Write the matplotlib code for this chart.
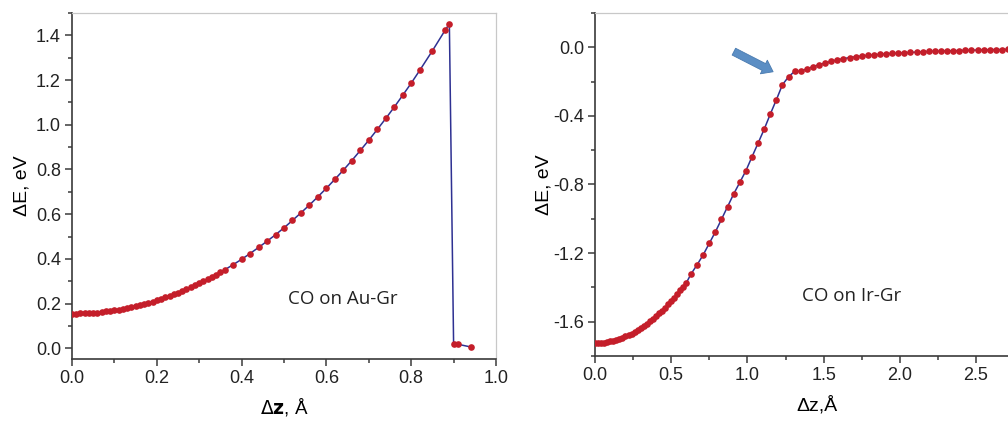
import matplotlib
matplotlib.use("Agg")
import matplotlib.pyplot as plt
from matplotlib.ticker import MultipleLocator, FormatStrFormatter, FixedLocator

plt.rcParams['axes.unicode_minus'] = False
plt.rcParams['font.family'] = ['Liberation Sans', 'DejaVu Sans']

# ---- data: CO on Au-Gr ----
au_dz = [0.00, 0.01, 0.02, 0.03, 0.04, 0.05, 0.06, 0.07, 0.08, 0.09,
         0.10, 0.11, 0.12, 0.13, 0.14, 0.15, 0.16, 0.17, 0.18, 0.19,
         0.20, 0.21, 0.22, 0.23, 0.24, 0.25, 0.26, 0.27, 0.28, 0.29,
         0.30, 0.31, 0.32, 0.33, 0.34, 0.35, 0.36, 0.38, 0.40, 0.42,
         0.44, 0.46, 0.48, 0.50, 0.52, 0.54, 0.56, 0.58, 0.60, 0.62,
         0.64, 0.66, 0.68, 0.70, 0.72, 0.74, 0.76, 0.78, 0.80, 0.82,
         0.85, 0.88, 0.89, 0.90, 0.91, 0.94]
au_dE = [0.155, 0.155, 0.156, 0.156, 0.157, 0.159, 0.160, 0.162, 0.165, 0.167,
         0.170, 0.173, 0.177, 0.180, 0.184, 0.189, 0.193, 0.198, 0.204, 0.209,
         0.215, 0.221, 0.228, 0.234, 0.242, 0.249, 0.257, 0.265, 0.273, 0.282,
         0.291, 0.300, 0.310, 0.320, 0.330, 0.340, 0.351, 0.374, 0.398, 0.424,
         0.451, 0.479, 0.508, 0.539, 0.572, 0.606, 0.641, 0.678, 0.716, 0.756,
         0.797, 0.840, 0.885, 0.931, 0.979, 1.028, 1.079, 1.132, 1.186, 1.243,
         1.331, 1.423, 1.451, 0.018, 0.018, 0.006]

# ---- data: CO on Ir-Gr ----
ir_dz = [0.00, 0.02, 0.04, 0.06, 0.08, 0.10, 0.12, 0.14, 0.16, 0.18,
         0.20, 0.22, 0.24, 0.26, 0.28, 0.30, 0.32, 0.34, 0.36, 0.38,
         0.40, 0.42, 0.44, 0.46, 0.48, 0.50, 0.52, 0.54, 0.56, 0.58,
         0.60, 0.63, 0.67, 0.71, 0.75, 0.79, 0.83, 0.87, 0.91, 0.95,
         0.99, 1.03, 1.07, 1.11, 1.15, 1.19, 1.23, 1.27, 1.31, 1.35,
         1.39, 1.43, 1.47, 1.51, 1.55, 1.59, 1.63, 1.67, 1.71, 1.75,
         1.79, 1.83, 1.87, 1.91, 1.95, 1.99, 2.03, 2.07, 2.11, 2.15,
         2.19, 2.23, 2.27, 2.31, 2.35, 2.39, 2.43, 2.47, 2.51, 2.55,
         2.59, 2.63, 2.67, 2.71, 2.75, 2.79]
ir_dE = [-1.725, -1.725, -1.723, -1.722, -1.719, -1.715, -1.711, -1.706, -1.700, -1.693,
         -1.686, -1.678, -1.669, -1.659, -1.648, -1.637, -1.625, -1.612, -1.598, -1.584,
         -1.568, -1.552, -1.535, -1.518, -1.499, -1.480, -1.460, -1.439, -1.418, -1.395,
         -1.372, -1.322, -1.268, -1.210, -1.143, -1.076, -1.003, -0.929, -0.855, -0.788,
         -0.720, -0.639, -0.559, -0.478, -0.390, -0.306, -0.218, -0.172, -0.140, -0.139,
         -0.126, -0.113, -0.101, -0.092, -0.082, -0.073, -0.066, -0.060, -0.055, -0.051,
         -0.047, -0.044, -0.041, -0.038, -0.036, -0.034, -0.032, -0.030, -0.028, -0.026,
         -0.024, -0.023, -0.022, -0.021, -0.020, -0.019, -0.018, -0.017, -0.016, -0.015,
         -0.014, -0.013, -0.013, -0.012, -0.012, -0.011]

ir_xticks = [0.0, 0.5, 1.0, 1.5, 2.0, 2.5]

line_color = '#2e3192'
marker_color = '#c41e2a'
axis_color = '#3a3a3a'
frame_color = '#c8c8c8'

fig = plt.figure(figsize=(10.08, 4.21), dpi=100)
ax1 = fig.add_axes([72/1008, 1-359/421, 424/1008, 346/421])
ax2 = fig.add_axes([595/1008, 1-356/421, 3*152.4/1008, 343/421])


def style(ax):
    for s in ('left', 'bottom'):
        ax.spines[s].set_color(axis_color)
        ax.spines[s].set_linewidth(1.2)
    for s in ('top', 'right'):
        ax.spines[s].set_color(frame_color)
        ax.spines[s].set_linewidth(0.9)
    ax.tick_params(which='both', direction='out', top=False, right=False,
                   color=axis_color, width=1.1, labelsize=13,
                   labelcolor='#222222')
    ax.tick_params(which='major', length=5, pad=3)
    ax.tick_params(which='minor', length=3)


for ax, dz, dE in ((ax1, au_dz, au_dE), (ax2, ir_dz, ir_dE)):
    ax.plot(dz, dE, '-', color=line_color, lw=1.1, zorder=2)
    ax.plot(dz, dE, 'o', color=marker_color, ms=4.8, mew=0, zorder=3)
    style(ax)

# left panel
ax1.set_xlim(0, 1.0)
ax1.set_ylim(-0.048, 1.5)
ax1.xaxis.set_major_locator(MultipleLocator(0.2))
ax1.xaxis.set_minor_locator(MultipleLocator(0.1))
ax1.yaxis.set_major_locator(MultipleLocator(0.2))
ax1.yaxis.set_minor_locator(MultipleLocator(0.1))
ax1.xaxis.set_major_formatter(FormatStrFormatter('%.1f'))
ax1.yaxis.set_major_formatter(FormatStrFormatter('%.1f'))
ax1.set_xlabel(r'$\Delta\mathbf{z}$, Å', fontsize=13.5)
ax1.xaxis.set_label_coords(0.5, -0.108)
ax1.set_ylabel('ΔE, eV', fontsize=14)
ax1.yaxis.set_label_coords(-0.098, 0.5)
ax1.text(0.639, 0.222, 'CO on Au-Gr', fontsize=13.5, family='Open Sans',
         ha='center', va='center', color='#222222')

# right panel
ax2.set_xlim(0, 3.0)
ax2.set_ylim(-1.8, 0.2)
ax2.xaxis.set_major_locator(FixedLocator(ir_xticks))
ax2.xaxis.set_minor_locator(MultipleLocator(0.25))
ax2.yaxis.set_major_locator(MultipleLocator(0.4))
ax2.yaxis.set_minor_locator(MultipleLocator(0.2))
ax2.xaxis.set_major_formatter(FormatStrFormatter('%.1f'))
ax2.yaxis.set_major_formatter(FormatStrFormatter('%.1f'))
ax2.set_xlabel('Δz,Å', fontsize=14)
ax2.xaxis.set_label_coords(222/457, -0.118)
ax2.set_ylabel('ΔE, eV', fontsize=14)
ax2.yaxis.set_label_coords(-42/457, 0.5)
ax2.text(1.686, -1.448, 'CO on Ir-Gr', fontsize=13.5, family='Open Sans',
         ha='center', va='center', color='#222222')
ax2.annotate('', xy=(1.185, -0.150), xytext=(0.895, -0.018),
             arrowprops=dict(arrowstyle='simple,head_length=0.75,head_width=1.1,tail_width=0.55',
                             fc='#5b8ec4', ec='#4a7bb0', lw=0.6))

fig.savefig('out.png', dpi=100)
